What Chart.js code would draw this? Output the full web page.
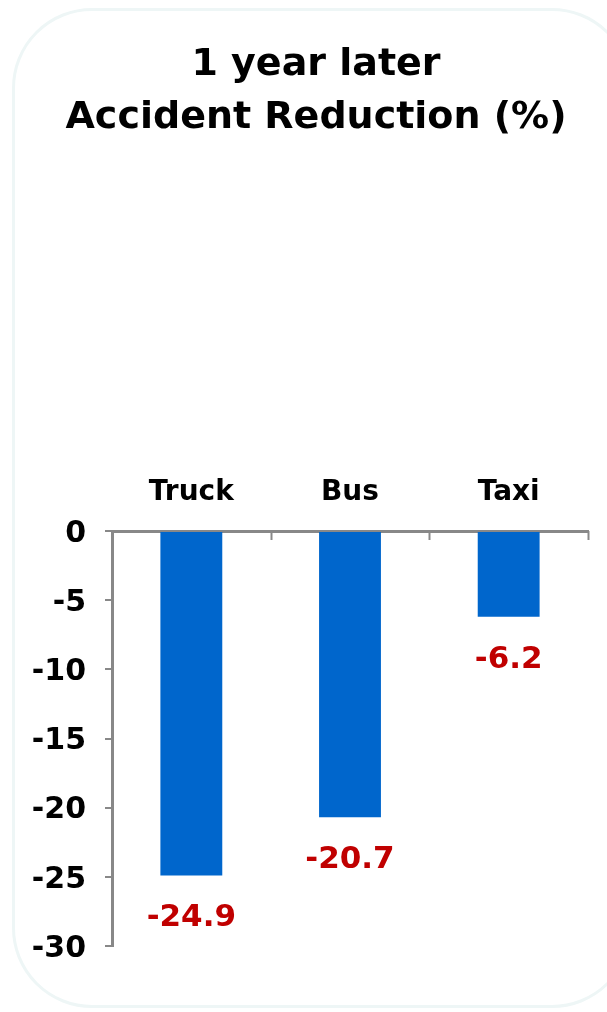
<!DOCTYPE html>
<html>
<head>
<meta charset="utf-8">
<script src="https://cdn.jsdelivr.net/npm/chart.js@4"></script>
<style>
  html, body { margin: 0; padding: 0; background: #ffffff; overflow: hidden; }
  #wrap { position: relative; width: 607px; height: 1012px; }
  #frame { position: absolute; left: 12px; top: 8px; width: 620px; height: 1000px;
           border: 3px solid #eef6f6; border-radius: 80px; box-sizing: border-box; }
  #c { position: absolute; left: 0; top: 0; }
</style>
</head>
<body>
<div id="wrap">
  <div id="frame"></div>
  <canvas id="c" width="607" height="1012"></canvas>
</div>
<script>
const categories = ['Truck', 'Bus', 'Taxi'];
const reductionValues = [-24.9, -20.7, -6.2];
const titleLines = ['1 year later', 'Accident Reduction (%)'];
const yMin = -30, yMax = 0, yStep = 5;

const FONT = "'DejaVu Sans', Verdana, sans-serif";

const titleDraw = {
  id: 'titleDraw',
  afterDraw(chart) {
    const ctx = chart.ctx;
    ctx.save();
    ctx.font = "bold 38px " + FONT;
    ctx.fillStyle = '#000000';
    ctx.textAlign = 'center';
    ctx.textBaseline = 'middle';
    titleLines.forEach((t, i) => ctx.fillText(t, 316, 65 + i * 53));
    ctx.restore();
  }
};

const valueLabels = {
  id: 'valueLabels',
  afterDatasetsDraw(chart) {
    const ctx = chart.ctx;
    const meta = chart.getDatasetMeta(0);
    ctx.save();
    ctx.font = "bold 31px " + FONT;
    ctx.fillStyle = '#C00000';
    ctx.textAlign = 'center';
    ctx.textBaseline = 'middle';
    meta.data.forEach((bar, i) => {
      ctx.fillText(String(reductionValues[i]), bar.x, bar.y + 43);
    });
    ctx.restore();
  }
};

const innerXTicks = {
  id: 'innerXTicks',
  afterDraw(chart) {
    const ctx = chart.ctx;
    const xs = chart.scales.x;
    const top = chart.chartArea.top;
    const step = xs.getPixelForValue(1) - xs.getPixelForValue(0);
    ctx.save();
    ctx.strokeStyle = '#888888';
    ctx.lineWidth = 2;
    for (let i = 0; i < categories.length; i++) {
      const px = xs.getPixelForValue(i) + step / 2;
      ctx.beginPath();
      ctx.moveTo(Math.round(px) + 0.5, top);
      ctx.lineTo(Math.round(px) + 0.5, top + 9);
      ctx.stroke();
    }
    ctx.restore();
  }
};

new Chart(document.getElementById('c'), {
  type: 'bar',
  data: {
    labels: categories,
    datasets: [{
      data: reductionValues,
      backgroundColor: '#0066CC',
      borderWidth: 0,
      barPercentage: 0.39,
      categoryPercentage: 1.0
    }]
  },
  options: {
    responsive: false,
    animation: false,
    devicePixelRatio: 1,
    layout: { padding: { top: 0, left: 0, right: 19, bottom: 66 } },
    plugins: {
      legend: { display: false },
      tooltip: { enabled: false },
      title: { display: false }
    },
    scales: {
      x: {
        position: 'top',
        afterFit(scale) { scale.height = 531; },
        grid: { display: true, drawOnChartArea: false, drawTicks: false, color: '#888888' },
        border: { display: true, color: '#888888', width: 3 },
        ticks: {
          color: '#000000',
          padding: 21,
          font: { family: FONT, size: 28, weight: 'bold' }
        }
      },
      y: {
        min: yMin,
        max: yMax,
        afterFit(scale) { scale.width = 112; },
        grid: { display: true, drawOnChartArea: false, drawTicks: true, tickLength: 7, color: '#888888', lineWidth: 2 },
        border: { display: true, color: '#888888', width: 3 },
        ticks: {
          stepSize: yStep,
          color: '#000000',
          padding: 19,
          labelOffset: 3,
          font: { family: FONT, size: 30, weight: 'bold' }
        }
      }
    }
  },
  plugins: [titleDraw, valueLabels, innerXTicks]
});
</script>
</body>
</html>
